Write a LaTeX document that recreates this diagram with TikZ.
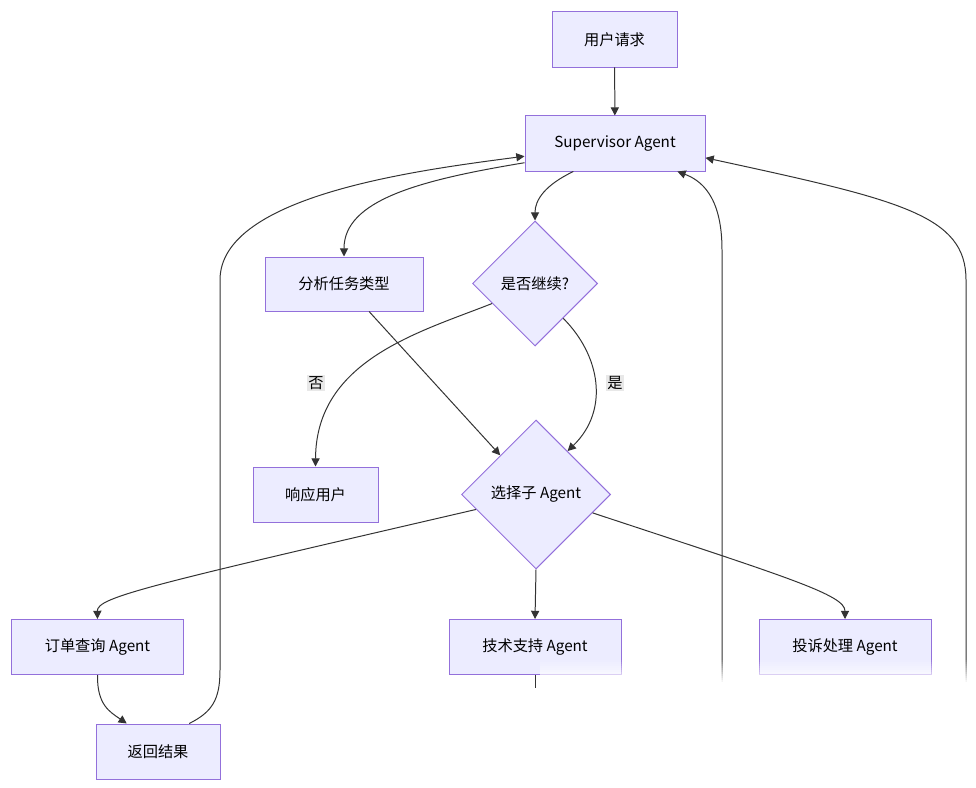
\documentclass[tikz,border=0pt]{standalone}
\usepackage{fontspec}
\setmainfont{Noto Sans CJK SC}
\usetikzlibrary{arrows.meta,shapes.geometric,calc}
\definecolor{nodefill}{HTML}{ECECFF}
\definecolor{nodeline}{HTML}{9370DB}
\definecolor{edgeline}{HTML}{333333}
\definecolor{lblfill}{HTML}{E8E8E8}

\begin{document}
\begin{tikzpicture}[x=0.03cm, y=-0.03cm,
  box/.style={draw=nodeline, fill=nodefill, line width=0.85pt, minimum height=1.65cm,
              align=center, inner sep=0pt, font=\fontsize{13}{16}\selectfont},
  choice/.style={diamond, aspect=1, draw=nodeline, fill=nodefill, line width=0.85pt,
                 inner sep=0pt, font=\fontsize{13}{16}\selectfont},
  arr/.style={-{Triangle[length=7pt,width=7pt]}, draw=edgeline, line width=0.85pt},
  lbl/.style={fill=lblfill, inner sep=1pt, font=\fontsize{13}{16}\selectfont},
]
\useasboundingbox (0,0) rectangle (976,788);

% nodes
\node[box, minimum width=3.75cm] (req) at (614.5,39.5) {用户请求};
\node[box, minimum width=5.4cm] (sup) at (615,143.5) {Supervisor Agent};
\node[box, minimum width=4.74cm, minimum height=1.62cm] (ana) at (344,284) {分析任务类型};
\node[choice, minimum width=3.75cm, minimum height=3.75cm] (cont) at (535,283.5) {是否继续?};
\node[box, minimum width=3.75cm] (resp) at (315.5,494.5) {响应用户};
\node[choice, minimum width=4.47cm, minimum height=4.47cm] (sel) at (536,494.5) {选择子 Agent};
\node[box, minimum width=5.13cm] (ord) at (97.5,647) {订单查询 Agent};
\node[box, minimum width=5.16cm] (tech) at (535,647) {技术支持 Agent};
\node[box, minimum width=5.16cm] (comp) at (845,647) {投诉处理 Agent};
\node[box, minimum width=3.72cm] (ret) at (158,751.5) {返回结果};

\coordinate (techend) at (535,688);
\coordinate (midend) at (722,700);
\coordinate (rightend) at (966,700);

% edges
\draw[arr] (req) -- (sup);
\draw[arr] (sup.192) .. controls (420,180) and (344,200) .. (ana.north);
\draw[arr] ($(sup.south west)!0.27!(sup.south east)$) .. controls (545,185) and (535,200) .. (cont.north);
\draw[arr] (ana) -- (sel);
\draw[arr] (cont.205) .. controls (420,332) and (316,360) .. (resp.north);
\draw[arr] (cont.-51) .. controls (600,355) and (610,410) .. (sel.54);
\node[lbl] (no) at (316,383) {否};
\node[lbl] (yes) at (615,383) {是};
\draw[arr] (sel.194) .. controls (150,585) and (97,597) .. (ord.north);
\draw[arr] (sel.south) -- (tech.north);
\draw[arr] (sel.-18) .. controls (790,578) and (845,595) .. (comp.north);
\draw[arr] (ord.south) .. controls (97,705) and (110,712) .. ($(ret.north west)!0.25!(ret.north east)$);
\draw[arr] ($(ret.north west)!0.75!(ret.north east)$) .. controls (212,712) and (220,700) .. (220,670)
  -- (220,280) .. controls (220,195) and (420,170) .. (sup.188);
\draw[arr] (midend) -- (722,250) .. controls (722,195) and (700,180) .. ($(sup.south west)!0.845!(sup.south east)$);
\draw[arr] (rightend) -- (966,280) .. controls (966,215) and (900,200) .. (sup.-9);
\draw[draw=edgeline, line width=0.85pt] (tech.south) -- (techend);

% faded lower edge
\foreach \i in {1,...,12}
  \fill[white, fill opacity=\i/12] (540,658+2*\i) rectangle (976,660+2*\i);
\fill[white] (540,684) rectangle (976,788);
\end{tikzpicture}
\end{document}
